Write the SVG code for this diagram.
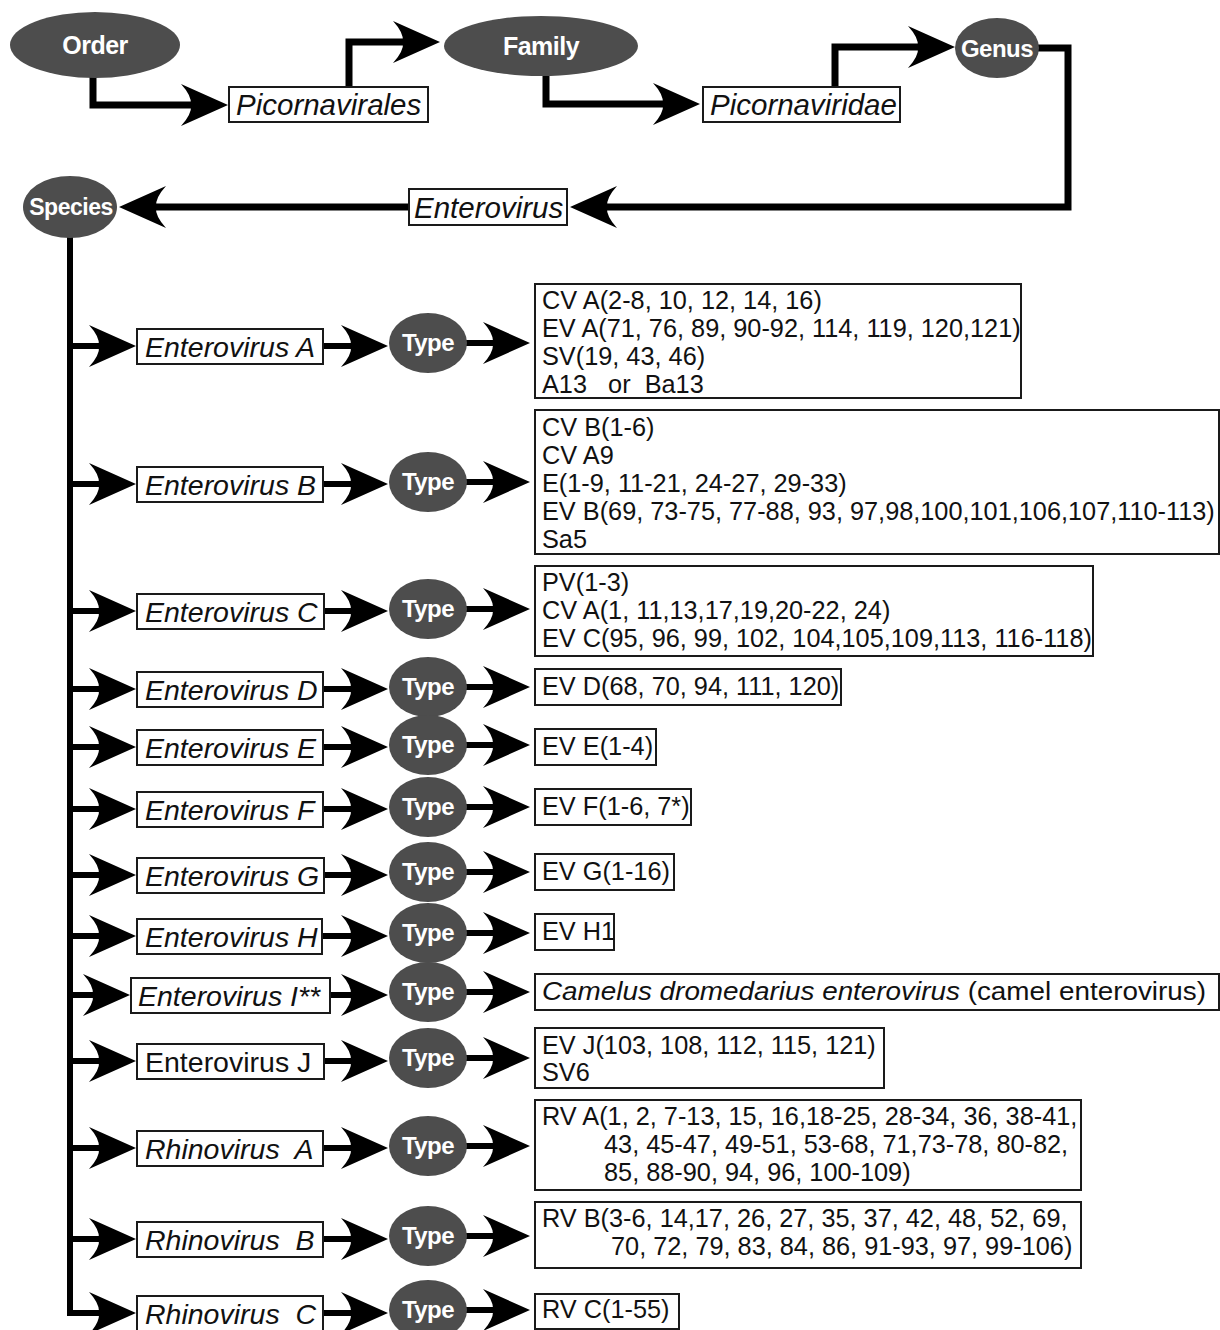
<svg xmlns="http://www.w3.org/2000/svg" width="1220" height="1330" viewBox="0 0 1220 1330">
<style>
.bg{fill:#ffffff}
.ell{fill:#4d4d4d}
.el{font-family:"Liberation Sans",Arial,sans-serif;font-weight:bold;fill:#ffffff;text-anchor:middle;letter-spacing:-0.5px}
.box{fill:#ffffff;stroke:#1a1a1a;stroke-width:2}
.lbl{font-family:"Liberation Sans",Arial,sans-serif;font-size:28.5px;font-style:italic;fill:#111}
.norm{font-style:normal}
.top{font-size:29.5px}
.res{font-family:"Liberation Sans",Arial,sans-serif;font-size:25.3px;fill:#111}
.con{fill:none;stroke:#000;stroke-width:6}
.thick{stroke-width:7}
</style>
<defs>
<marker id="ah" markerUnits="userSpaceOnUse" markerWidth="48" markerHeight="44" viewBox="0 0 48 44" refX="14" refY="22" orient="auto" overflow="visible">
<path d="M0,1 L47,22 L0,43 Q11,31 10,22 Q11,13 0,1 Z" fill="#000"/>
</marker>
</defs>
<rect class="bg" x="0" y="0" width="1220" height="1330"/>

<g id="connectors">
<path class="con thick" d="M93,76 V105 H195" marker-end="url(#ah)"/>
<path class="con thick" d="M349,88 V42 H407" marker-end="url(#ah)"/>
<path class="con thick" d="M546,75 V104 H667" marker-end="url(#ah)"/>
<path class="con thick" d="M835,88 V47 H922" marker-end="url(#ah)"/>
<path class="con thick" d="M1037,48 H1068 V207 H603" marker-end="url(#ah)"/>
<path class="con thick" d="M409,207 H152" marker-end="url(#ah)"/>
<path class="con" d="M70,237 V1313 H103" marker-end="url(#ah)"/>
<path class="con" d="M70,346 H103" marker-end="url(#ah)"/>
<path class="con" d="M70,484 H103" marker-end="url(#ah)"/>
<path class="con" d="M70,611 H103" marker-end="url(#ah)"/>
<path class="con" d="M70,689 H103" marker-end="url(#ah)"/>
<path class="con" d="M70,747 H103" marker-end="url(#ah)"/>
<path class="con" d="M70,809 H103" marker-end="url(#ah)"/>
<path class="con" d="M70,875 H103" marker-end="url(#ah)"/>
<path class="con" d="M70,936 H103" marker-end="url(#ah)"/>
<path class="con" d="M70,995 H97" marker-end="url(#ah)"/>
<path class="con" d="M70,1061 H103" marker-end="url(#ah)"/>
<path class="con" d="M70,1148 H103" marker-end="url(#ah)"/>
<path class="con" d="M70,1239 H103" marker-end="url(#ah)"/>
<path class="con" d="M323,346 H355" marker-end="url(#ah)"/>
<path class="con" d="M323,484 H355" marker-end="url(#ah)"/>
<path class="con" d="M324,611 H355" marker-end="url(#ah)"/>
<path class="con" d="M323,689 H355" marker-end="url(#ah)"/>
<path class="con" d="M323,747 H355" marker-end="url(#ah)"/>
<path class="con" d="M323,809 H355" marker-end="url(#ah)"/>
<path class="con" d="M323,875 H355" marker-end="url(#ah)"/>
<path class="con" d="M323,936 H355" marker-end="url(#ah)"/>
<path class="con" d="M330,995 H355" marker-end="url(#ah)"/>
<path class="con" d="M324,1061 H355" marker-end="url(#ah)"/>
<path class="con" d="M323,1148 H355" marker-end="url(#ah)"/>
<path class="con" d="M323,1239 H355" marker-end="url(#ah)"/>
<path class="con" d="M323,1313 H355" marker-end="url(#ah)"/>
<path class="con" d="M466,343 H497" marker-end="url(#ah)"/>
<path class="con" d="M466,482 H497" marker-end="url(#ah)"/>
<path class="con" d="M466,609 H497" marker-end="url(#ah)"/>
<path class="con" d="M466,687 H497" marker-end="url(#ah)"/>
<path class="con" d="M466,745 H497" marker-end="url(#ah)"/>
<path class="con" d="M466,807 H497" marker-end="url(#ah)"/>
<path class="con" d="M466,872 H497" marker-end="url(#ah)"/>
<path class="con" d="M466,933 H497" marker-end="url(#ah)"/>
<path class="con" d="M466,992 H497" marker-end="url(#ah)"/>
<path class="con" d="M466,1058 H497" marker-end="url(#ah)"/>
<path class="con" d="M466,1146 H497" marker-end="url(#ah)"/>
<path class="con" d="M466,1236 H497" marker-end="url(#ah)"/>
<path class="con" d="M466,1310 H497" marker-end="url(#ah)"/>
</g>

<g id="order"><ellipse class="ell" cx="95" cy="45" rx="85" ry="33"/><text class="el" x="95" y="54" font-size="25">Order</text></g>
<g id="picornavirales"><rect class="box" x="229" y="87" width="199" height="35"/><text class="lbl top" x="236" y="115">Picornavirales</text></g>
<g id="family"><ellipse class="ell" cx="541" cy="46" rx="97" ry="30"/><text class="el" x="541" y="55" font-size="25">Family</text></g>
<g id="picornaviridae"><rect class="box" x="703" y="87" width="197" height="35"/><text class="lbl top" x="710" y="115">Picornaviridae</text></g>
<g id="genus"><ellipse class="ell" cx="997" cy="48" rx="42" ry="30"/><text class="el" x="997" y="57" font-size="24">Genus</text></g>
<g id="enterovirus"><rect class="box" x="409" y="189" width="158" height="36"/><text class="lbl top" x="414" y="218">Enterovirus</text></g>
<g id="species"><ellipse class="ell" cx="70" cy="207" rx="47" ry="31"/><text class="el" x="71" y="215" font-size="23">Species</text></g>

<g id="ev-a"><rect class="box" x="137" y="329" width="186" height="35"/><text class="lbl" x="145" y="357">Enterovirus A</text></g>
<g id="type-a"><ellipse class="ell" cx="428" cy="343" rx="39" ry="30"/><text class="el" x="428" y="351" font-size="24">Type</text></g>
<g id="res-a"><rect class="box" x="535" y="284" width="486" height="114"/><text class="res"><tspan x="542" y="309">CV A(2-8, 10, 12, 14, 16)</tspan><tspan x="542" y="337">EV A(71, 76, 89, 90-92, 114, 119, 120,121)</tspan><tspan x="542" y="365">SV(19, 43, 46)</tspan><tspan x="542" y="393" xml:space="preserve">A13   or  Ba13</tspan></text></g>

<g id="ev-b"><rect class="box" x="137" y="467" width="186" height="35"/><text class="lbl" x="145" y="495">Enterovirus B</text></g>
<g id="type-b"><ellipse class="ell" cx="428" cy="482" rx="39" ry="30"/><text class="el" x="428" y="490" font-size="24">Type</text></g>
<g id="res-b"><rect class="box" x="535" y="410" width="684" height="144"/><text class="res"><tspan x="542" y="436">CV B(1-6)</tspan><tspan x="542" y="464">CV A9</tspan><tspan x="542" y="492">E(1-9, 11-21, 24-27, 29-33)</tspan><tspan x="542" y="520">EV B(69, 73-75, 77-88, 93, 97,98,100,101,106,107,110-113)</tspan><tspan x="542" y="548">Sa5</tspan></text></g>

<g id="ev-c"><rect class="box" x="137" y="594" width="187" height="35"/><text class="lbl" x="145" y="622">Enterovirus C</text></g>
<g id="type-c"><ellipse class="ell" cx="428" cy="609" rx="39" ry="30"/><text class="el" x="428" y="617" font-size="24">Type</text></g>
<g id="res-c"><rect class="box" x="535" y="566" width="558" height="90"/><text class="res"><tspan x="542" y="591">PV(1-3)</tspan><tspan x="542" y="619">CV A(1, 11,13,17,19,20-22, 24)</tspan><tspan x="542" y="647">EV C(95, 96, 99, 102, 104,105,109,113, 116-118)</tspan></text></g>

<g id="ev-d"><rect class="box" x="137" y="672" width="186" height="35"/><text class="lbl" x="145" y="700">Enterovirus D</text></g>
<g id="type-d"><ellipse class="ell" cx="428" cy="687" rx="39" ry="30"/><text class="el" x="428" y="695" font-size="24">Type</text></g>
<g id="res-d"><rect class="box" x="535" y="669" width="306" height="36"/><text class="res" x="542" y="695">EV D(68, 70, 94, 111, 120)</text></g>

<g id="ev-e"><rect class="box" x="137" y="730" width="186" height="35"/><text class="lbl" x="145" y="758">Enterovirus E</text></g>
<g id="type-e"><ellipse class="ell" cx="428" cy="745" rx="39" ry="30"/><text class="el" x="428" y="753" font-size="24">Type</text></g>
<g id="res-e"><rect class="box" x="535" y="729" width="121" height="36"/><text class="res" x="542" y="755">EV E(1-4)</text></g>

<g id="ev-f"><rect class="box" x="137" y="792" width="186" height="35"/><text class="lbl" x="145" y="820">Enterovirus F</text></g>
<g id="type-f"><ellipse class="ell" cx="428" cy="807" rx="39" ry="30"/><text class="el" x="428" y="815" font-size="24">Type</text></g>
<g id="res-f"><rect class="box" x="535" y="789" width="156" height="36"/><text class="res" x="542" y="815">EV F(1-6, 7*)</text></g>

<g id="ev-g"><rect class="box" x="137" y="858" width="187" height="35"/><text class="lbl" x="145" y="886">Enterovirus G</text></g>
<g id="type-g"><ellipse class="ell" cx="428" cy="872" rx="39" ry="30"/><text class="el" x="428" y="880" font-size="24">Type</text></g>
<g id="res-g"><rect class="box" x="535" y="854" width="139" height="36"/><text class="res" x="542" y="880">EV G(1-16)</text></g>

<g id="ev-h"><rect class="box" x="137" y="919" width="185" height="35"/><text class="lbl" x="145" y="947">Enterovirus H</text></g>
<g id="type-h"><ellipse class="ell" cx="428" cy="933" rx="39" ry="30"/><text class="el" x="428" y="941" font-size="24">Type</text></g>
<g id="res-h"><rect class="box" x="535" y="914" width="79" height="36"/><text class="res" x="542" y="940">EV H1</text></g>

<g id="ev-i"><rect class="box" x="131" y="978" width="199" height="35"/><text class="lbl" x="138" y="1006">Enterovirus I**</text></g>
<g id="type-i"><ellipse class="ell" cx="428" cy="992" rx="39" ry="30"/><text class="el" x="428" y="1000" font-size="24">Type</text></g>
<g id="res-i"><rect class="box" x="535" y="974" width="684" height="36"/><text class="res" x="542" y="1000" font-size="26" textLength="664" lengthAdjust="spacingAndGlyphs"><tspan font-style="italic">Camelus dromedarius enterovirus</tspan> (camel enterovirus)</text></g>

<g id="ev-j"><rect class="box" x="137" y="1044" width="187" height="35"/><text class="lbl norm" x="145" y="1072">Enterovirus J</text></g>
<g id="type-j"><ellipse class="ell" cx="428" cy="1058" rx="39" ry="30"/><text class="el" x="428" y="1066" font-size="24">Type</text></g>
<g id="res-j"><rect class="box" x="535" y="1028" width="349" height="60"/><text class="res"><tspan x="542" y="1054">EV J(103, 108, 112, 115, 121)</tspan><tspan x="542" y="1081">SV6</tspan></text></g>

<g id="rv-a"><rect class="box" x="137" y="1131" width="186" height="35"/><text class="lbl" x="145" y="1159" xml:space="preserve">Rhinovirus  A</text></g>
<g id="type-ra"><ellipse class="ell" cx="428" cy="1146" rx="39" ry="30"/><text class="el" x="428" y="1154" font-size="24">Type</text></g>
<g id="res-ra"><rect class="box" x="535" y="1100" width="546" height="90"/><text class="res"><tspan x="542" y="1125">RV A(1, 2, 7-13, 15, 16,18-25, 28-34, 36, 38-41,</tspan><tspan x="604" y="1153">43, 45-47, 49-51, 53-68, 71,73-78, 80-82,</tspan><tspan x="604" y="1181">85, 88-90, 94, 96, 100-109)</tspan></text></g>

<g id="rv-b"><rect class="box" x="137" y="1222" width="186" height="35"/><text class="lbl" x="145" y="1250" xml:space="preserve">Rhinovirus  B</text></g>
<g id="type-rb"><ellipse class="ell" cx="428" cy="1236" rx="39" ry="30"/><text class="el" x="428" y="1244" font-size="24">Type</text></g>
<g id="res-rb"><rect class="box" x="535" y="1202" width="546" height="66"/><text class="res"><tspan x="542" y="1227">RV B(3-6, 14,17, 26, 27, 35, 37, 42, 48, 52, 69,</tspan><tspan x="611" y="1255">70, 72, 79, 83, 84, 86, 91-93, 97, 99-106)</tspan></text></g>

<g id="rv-c"><rect class="box" x="137" y="1296" width="186" height="35"/><text class="lbl" x="145" y="1324" xml:space="preserve">Rhinovirus  C</text></g>
<g id="type-rc"><ellipse class="ell" cx="428" cy="1310" rx="39" ry="30"/><text class="el" x="428" y="1318" font-size="24">Type</text></g>
<g id="res-rc"><rect class="box" x="535" y="1294" width="144" height="35"/><text class="res" x="542" y="1318">RV C(1-55)</text></g>
</svg>
